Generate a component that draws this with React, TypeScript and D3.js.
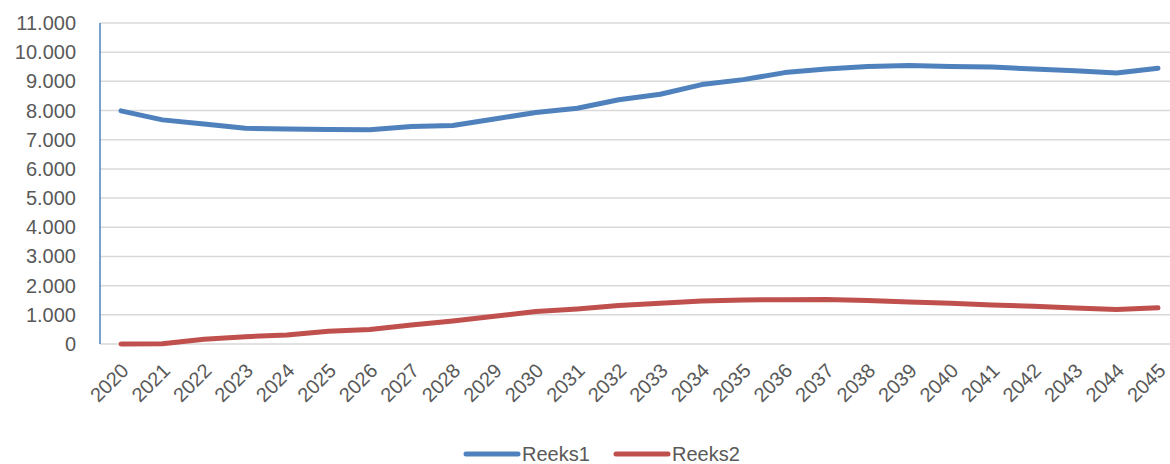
import { useEffect, useRef } from "react"
import * as d3 from "d3"

const years = [
  "2020", "2021", "2022", "2023", "2024", "2025", "2026", "2027", "2028", "2029",
  "2030", "2031", "2032", "2033", "2034", "2035", "2036", "2037", "2038", "2039",
  "2040", "2041", "2042", "2043", "2044", "2045",
]

const reeks1 = [
  7990, 7680, 7540, 7390, 7370, 7350, 7340, 7450, 7490, 7710,
  7930, 8080, 8370, 8560, 8890, 9060, 9300, 9420, 9510, 9540,
  9510, 9490, 9420, 9360, 9290, 9450,
]

const reeks2 = [
  0, 10, 160, 250, 310, 440, 500, 650, 790, 950,
  1110, 1200, 1320, 1400, 1470, 1510, 1520, 1525, 1490, 1440,
  1400, 1340, 1290, 1230, 1180, 1240,
]

const yTicks = [0, 1000, 2000, 3000, 4000, 5000, 6000, 7000, 8000, 9000, 10000, 11000]

const series = [
  { name: "Reeks1", values: reeks1, color: "#4F81BD" },
  { name: "Reeks2", values: reeks2, color: "#C0504D" },
]

const W = 1170
const H = 464
const FONT = "'Liberation Sans', Arial, sans-serif"

export default function App() {
  const svgRef = useRef<SVGSVGElement>(null)

  useEffect(() => {
    if (!svgRef.current) return
    const svg = d3.select(svgRef.current)
    svg.selectAll("*").remove()

    const left = 100
    const right = 1170
    const top = 23
    const bottom = 344

    const x = d3.scalePoint<string>().domain(years).range([121, 1158])
    const y = d3.scaleLinear().domain([0, 11000]).range([bottom, top])

    // gridlines
    svg
      .append("g")
      .selectAll("line")
      .data(yTicks)
      .enter()
      .append("line")
      .attr("x1", left)
      .attr("x2", right)
      .attr("y1", (d) => y(d))
      .attr("y2", (d) => y(d))
      .attr("stroke", "#D9D9D9")
      .attr("stroke-width", 1.5)

    // y-as labels
    svg
      .append("g")
      .selectAll("text")
      .data(yTicks)
      .enter()
      .append("text")
      .attr("x", 76)
      .attr("y", (d) => y(d))
      .attr("dy", "0.35em")
      .attr("text-anchor", "end")
      .attr("font-family", FONT)
      .attr("font-size", 20)
      .attr("fill", "#595959")
      .text((d) => (d === 0 ? "0" : d3.format(",")(d).replace(/,/g, ".")))

    // y-as lijn
    svg
      .append("line")
      .attr("x1", left)
      .attr("x2", left)
      .attr("y1", top)
      .attr("y2", bottom)
      .attr("stroke", "#4F81BD")
      .attr("stroke-width", 1.5)

    // x-as labels
    svg
      .append("g")
      .selectAll("text")
      .data(years)
      .enter()
      .append("text")
      .attr("transform", (d) => `translate(${(x(d) || 0) - 1},${bottom + 18}) rotate(-45)`)
      .attr("text-anchor", "end")
      .attr("dy", "0.7em")
      .attr("font-family", FONT)
      .attr("font-size", 20)
      .attr("fill", "#595959")
      .text((d) => d)

    // lijnen
    const line = d3
      .line<number>()
      .x((_, i) => x(years[i]) || 0)
      .y((d) => y(d))

    series.forEach((s) => {
      svg
        .append("path")
        .datum(s.values)
        .attr("d", line)
        .attr("fill", "none")
        .attr("stroke", s.color)
        .attr("stroke-width", 5)
        .attr("stroke-linecap", "round")
        .attr("stroke-linejoin", "round")
    })

    // legenda
    const legend = svg.append("g")
    const legendX = [466, 616]
    series.forEach((s, i) => {
      const g = legend.append("g").attr("transform", `translate(${legendX[i]},454)`)
      g.append("line")
        .attr("x1", 0)
        .attr("x2", 52)
        .attr("stroke", s.color)
        .attr("stroke-width", 5)
        .attr("stroke-linecap", "round")
      g.append("text")
        .attr("x", 56)
        .attr("dy", "0.35em")
        .attr("font-family", FONT)
        .attr("font-size", 20)
        .attr("fill", "#595959")
        .text(s.name)
    })
  }, [])

  return (
    <div style={{ position: "absolute", left: 0, top: 0, width: W, height: H, background: "#fff" }}>
      <svg ref={svgRef} width={W} height={H} />
    </div>
  )
}
